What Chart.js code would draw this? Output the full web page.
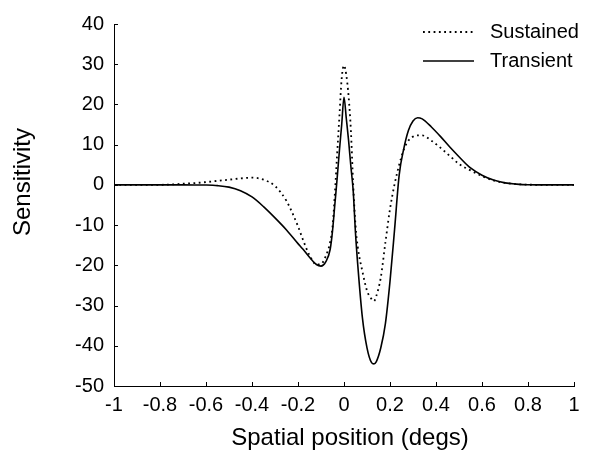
<!DOCTYPE html>
<html>
<head>
<meta charset="utf-8">
<script src="https://cdn.jsdelivr.net/npm/chart.js@4/dist/chart.umd.min.js"></script>
<style>
  html, body { margin: 0; padding: 0; background: #fff; }
  #wrap { width: 590px; height: 456px; }
</style>
</head>
<body>
<div id="wrap"><canvas id="grafica" width="590" height="456"></canvas></div>
<script>
// Datos (posición espacial en grados)
const posiciones = [
  -1, -0.9, -0.8, -0.75, -0.7, -0.65, -0.6, -0.55, -0.5, -0.45,
  -0.4, -0.35, -0.3, -0.25, -0.2, -0.18, -0.15, -0.12, -0.1, -0.08,
  -0.06, -0.05, -0.04, -0.03, -0.02, -0.01, 0, 0.01, 0.02, 0.03,
  0.04, 0.05, 0.06, 0.08, 0.1, 0.12, 0.13, 0.14, 0.16, 0.18,
  0.2, 0.22, 0.24, 0.26, 0.28, 0.3, 0.32, 0.34, 0.38, 0.42,
  0.46, 0.5, 0.55, 0.6, 0.65, 0.7, 0.75, 0.8, 0.9, 1
];

const sustained = [
  0, 0, 0.02, 0.1, 0.3, 0.45, 0.7, 1.0, 1.3, 1.6,
  1.8, 1.3, -0.3, -4.0, -10.3, -13.4, -17.5, -19.8, -19.7, -17.8,
  -14.2, -10.5, -2.5, 7.5, 17, 26.5, 29.7, 27.3, 22, 13.5,
  0, -10, -15.5, -21.5, -26.3, -28.4, -28.9, -27.7, -23, -14.3,
  -6, 0.2, 5, 8.8, 11, 12, 12.3, 12.3, 11, 9.2,
  7.2, 5.2, 3.6, 2.2, 1.1, 0.5, 0.2, 0.05, 0, 0
];

const transient = [
  0, 0, 0, 0, 0, -0.01, -0.04, -0.18, -0.55, -1.45,
  -3.0, -5.4, -8.2, -11.2, -14.6, -15.9, -18, -19.8, -20.2, -19.2,
  -16, -11.5, -5, 1.5, 8.5, 15, 21.8, 16.5, 11, 4.5,
  -1.5, -12, -20, -33, -40.5, -44.2, -44.5, -44, -40.5, -34.5,
  -24, -11, 2.5, 9, 13.5, 15.9, 16.7, 16.4, 14.4, 12,
  9.4, 7.0, 4.2, 2.4, 1.2, 0.5, 0.2, 0.05, 0, 0
];

const xTickValores = [-1, -0.8, -0.6, -0.4, -0.2, 0, 0.2, 0.4, 0.6, 0.8, 1];
const xTickEtiquetas = ['-1', '-0.8', '-0.6', '-0.4', '-0.2', '0', '0.2', '0.4', '0.6', '0.8', '1'];
const yTickValores = [-50, -40, -30, -20, -10, 0, 10, 20, 30, 40];
const yTickEtiquetas = ['-50', '-40', '-30', '-20', '-10', '0', '10', '20', '30', '40'];

const FUENTE = "'Liberation Sans', Arial, Helvetica, sans-serif";

// marcas de los ejes hacia adentro, como en la figura original
const marcasInternas = {
  id: 'marcasInternas',
  afterDatasetsDraw(chart) {
    const { ctx, chartArea, scales: { x, y } } = chart;
    ctx.save();
    ctx.strokeStyle = '#000';
    ctx.lineWidth = 1;
    ctx.beginPath();
    x.ticks.forEach(t => {
      const px = Math.round(x.getPixelForValue(t.value)) + 0.5;
      ctx.moveTo(px, chartArea.bottom);
      ctx.lineTo(px, chartArea.bottom - 4);
    });
    y.ticks.forEach(t => {
      const py = Math.round(y.getPixelForValue(t.value)) + 0.5;
      ctx.moveTo(chartArea.left, py);
      ctx.lineTo(chartArea.left + 4, py);
    });
    ctx.stroke();
    ctx.restore();
  }
};

// leyenda dentro del área (arriba a la derecha) y títulos de ejes
const leyendaYTitulos = {
  id: 'leyendaYTitulos',
  afterDraw(chart) {
    const { ctx, chartArea } = chart;
    ctx.save();
    ctx.fillStyle = '#000';
    ctx.font = '20px ' + FUENTE;
    ctx.textBaseline = 'middle';
    chart.data.datasets.forEach((ds, i) => {
      const yy = chartArea.top + 8 + i * 29;
      const x0 = chartArea.right - 151;
      ctx.beginPath();
      ctx.strokeStyle = ds.borderColor;
      ctx.lineWidth = ds.borderWidth;
      ctx.setLineDash(ds.borderDash || []);
      ctx.moveTo(x0, yy);
      ctx.lineTo(x0 + 51, yy);
      ctx.stroke();
      ctx.setLineDash([]);
      ctx.textAlign = 'left';
      ctx.fillText(ds.label, x0 + 67, yy);
    });

    ctx.font = '24px ' + FUENTE;
    ctx.textAlign = 'center';
    ctx.fillText('Spatial position (degs)', (chartArea.left + chartArea.right) / 2 + 6, chartArea.bottom + 52);
    ctx.translate(23, (chartArea.top + chartArea.bottom) / 2 - 23);
    ctx.rotate(-Math.PI / 2);
    ctx.fillText('Sensitivity', 0, 0);
    ctx.restore();
  }
};

new Chart(document.getElementById('grafica').getContext('2d'), {
  type: 'line',
  data: {
    datasets: [
      {
        label: 'Sustained',
        data: posiciones.map((p, i) => ({ x: p, y: sustained[i] })),
        borderColor: '#000',
        borderWidth: 1.8,
        borderDash: [1.8, 3.5],
        pointRadius: 0,
        cubicInterpolationMode: 'monotone',
        fill: false
      },
      {
        label: 'Transient',
        data: posiciones.map((p, i) => ({ x: p, y: transient[i] })),
        borderColor: '#000',
        borderWidth: 1.6,
        pointRadius: 0,
        cubicInterpolationMode: 'monotone',
        fill: false
      }
    ]
  },
  options: {
    responsive: false,
    animation: false,
    layout: { padding: { left: 0, right: 16, top: 24, bottom: 0 } },
    plugins: {
      legend: { display: false },
      tooltip: { enabled: false }
    },
    scales: {
      x: {
        type: 'linear',
        min: -1,
        max: 1,
        afterBuildTicks: (escala) => { escala.ticks = xTickValores.map(v => ({ value: v })); },
        afterFit: (escala) => { escala.height = 70; },
        grid: { drawOnChartArea: false, drawTicks: false },
        border: { display: true, color: '#000', width: 1 },
        ticks: {
          color: '#000',
          padding: 7,
          maxRotation: 0,
          autoSkip: false,
          font: { family: FUENTE, size: 20 },
          callback: (valor, i) => xTickEtiquetas[i]
        }
      },
      y: {
        type: 'linear',
        min: -50,
        max: 40,
        afterBuildTicks: (escala) => { escala.ticks = yTickValores.map(v => ({ value: v })); },
        afterFit: (escala) => { escala.width = 114; },
        grid: { drawOnChartArea: false, drawTicks: false },
        border: { display: true, color: '#000', width: 1 },
        ticks: {
          color: '#000',
          padding: 10,
          autoSkip: false,
          font: { family: FUENTE, size: 20 },
          callback: (valor, i) => yTickEtiquetas[i]
        }
      }
    }
  },
  plugins: [marcasInternas, leyendaYTitulos]
});
</script>
</body>
</html>
